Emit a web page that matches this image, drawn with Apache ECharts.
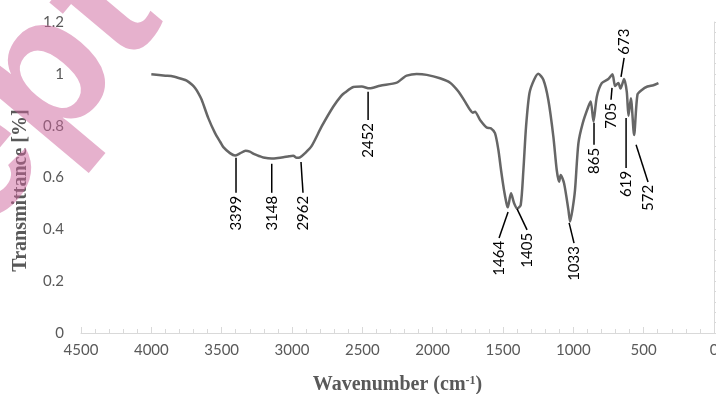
<!DOCTYPE html>
<html>
<head>
<meta charset="utf-8">
<script src="https://cdn.jsdelivr.net/npm/echarts@6/dist/echarts.min.js"></script>
<style>
  html, body { margin: 0; padding: 0; background: #fff; }
  #chart { width: 716px; height: 394px; }
</style>
</head>
<body>
<div id="chart"></div>
<script>
// spectrum
const wavenumber = [
  4000, 3900, 3844, 3780, 3749, 3710, 3689, 3665, 3642, 3595, 3547, 3510, 3488, 3441, 3405,
  3370, 3330, 3300, 3275, 3230, 3204, 3144, 3100, 3062, 3020, 2991, 2967, 2943, 2907, 2860,
  2789, 2706, 2650, 2623, 2564, 2504, 2450, 2374, 2255, 2215, 2185, 2114, 2042, 1948, 1876,
  1817, 1770, 1734, 1715, 1699, 1663, 1616, 1587, 1557, 1533, 1514, 1493, 1475, 1466, 1443,
  1421, 1398, 1374, 1355, 1336, 1312, 1279, 1249, 1213, 1178, 1142, 1118, 1101, 1090, 1066,
  1035, 1023, 1005, 988, 964, 933, 893, 876, 857, 833, 798, 751, 722, 703, 680,
  665, 639, 620, 608, 591, 568, 544, 513, 473, 431, 395
];
const transmittance = [
  0.998, 0.993, 0.990, 0.980, 0.974, 0.958, 0.945, 0.925, 0.900, 0.829, 0.771, 0.737, 0.717, 0.694, 0.685,
  0.693, 0.703, 0.700, 0.692, 0.682, 0.677, 0.673, 0.675, 0.678, 0.682, 0.684, 0.676, 0.678, 0.694, 0.722,
  0.797, 0.874, 0.915, 0.928, 0.949, 0.951, 0.944, 0.954, 0.966, 0.982, 0.993, 0.999, 0.996, 0.983, 0.966,
  0.932, 0.893, 0.861, 0.850, 0.854, 0.822, 0.793, 0.790, 0.771, 0.707, 0.629, 0.552, 0.500, 0.485, 0.539,
  0.501, 0.480, 0.494, 0.629, 0.797, 0.925, 0.977, 1.000, 0.977, 0.900, 0.758, 0.629, 0.584, 0.610, 0.578,
  0.475, 0.430, 0.480, 0.552, 0.732, 0.810, 0.874, 0.893, 0.816, 0.912, 0.964, 0.980, 0.998, 0.953, 0.965,
  0.943, 0.980, 0.930, 0.838, 0.906, 0.764, 0.920, 0.938, 0.951, 0.956, 0.964
];

// peak annotations: leader line from (fromX, fromY) to (toX, toY), label at the far end
const peakLabels = ['3399', '3148', '2962', '2452', '1464', '1405', '1033', '865', '705', '673', '619', '572'];
const lineFromX = [3398, 3144, 2936, 2459, 1464, 1400, 1030, 853, 725, 661, 625, 554];
const lineFromY = [0.676, 0.653, 0.660, 0.931, 0.467, 0.479, 0.425, 0.811, 0.946, 0.988, 0.830, 0.726];
const lineToX = [3398, 3144, 2922, 2459, 1528, 1329, 995, 853, 732, 639, 625, 469];
const lineToY = [0.541, 0.541, 0.541, 0.822, 0.367, 0.398, 0.347, 0.726, 0.900, 1.062, 0.637, 0.583];

const spectrum = wavenumber.map((w, i) => [w, transmittance[i]]);
const peaks = peakLabels.map((p, i) => [lineFromX[i], lineFromY[i], lineToX[i], lineToY[i], p]);

const chart = echarts.init(document.getElementById('chart'));

const axisGrey = '#d9d9d9';
const labelGrey = '#595959';

chart.setOption({
  animation: false,
  grid: { left: 81, right: 2, top: 22, bottom: 61, outerBoundsMode: 'none' },
  xAxis: {
    type: 'value',
    min: 0,
    max: 4500,
    interval: 500,
    inverse: true,
    name: 'Wavenumber (cm{sup|-1})',
    nameLocation: 'middle',
    nameGap: 42,
    nameTextStyle: {
      fontFamily: 'Liberation Serif',
      fontWeight: 'bold',
      fontSize: 20,
      color: labelGrey,
      rich: {
        sup: { fontFamily: 'Liberation Serif', fontWeight: 'bold', fontSize: 12, color: labelGrey, padding: [0, 0, 8, 0] }
      }
    },
    axisLine: { lineStyle: { color: axisGrey } },
    axisTick: { inside: true, length: 6, lineStyle: { color: axisGrey } },
    minorTick: { show: true, splitNumber: 5, length: 4, lineStyle: { color: axisGrey } },
    splitLine: { show: false },
    axisLabel: { color: labelGrey, fontFamily: 'Lato', fontSize: 15, margin: 10, formatter: v => String(v) }
  },
  yAxis: {
    type: 'value',
    min: 0,
    max: 1.2,
    interval: 0.2,
    name: 'Transmittance [%]',
    nameLocation: 'middle',
    nameGap: 50,
    nameTextStyle: {
      fontFamily: 'Liberation Serif',
      fontWeight: 'bold',
      fontSize: 20,
      color: labelGrey,
      padding: [0, 26, 0, 0]
    },
    axisLine: { show: true, lineStyle: { color: axisGrey } },
    axisTick: { show: true, inside: true, length: 6, lineStyle: { color: axisGrey } },
    minorTick: { show: true, splitNumber: 5, length: 6, lineStyle: { color: axisGrey } },
    splitLine: { show: false },
    axisLabel: {
      color: labelGrey,
      fontFamily: 'Lato',
      fontSize: 15,
      margin: 17,
      formatter: v => String(Math.round(v * 10) / 10)
    }
  },
  series: [
    {
      type: 'line',
      data: spectrum,
      showSymbol: false,
      smooth: 0.25,
      lineStyle: { color: '#666666', width: 2.5 },
      z: 2
    },
    {
      type: 'custom',
      data: peaks,
      z: 3,
      renderItem: (params, api) => {
        const a = api.coord([api.value(0), api.value(1)]);
        const b = api.coord([api.value(2), api.value(3)]);
        const up = b[1] < a[1];
        return {
          type: 'group',
          children: [
            {
              type: 'line',
              shape: { x1: a[0], y1: a[1], x2: b[0], y2: b[1] },
              style: { stroke: '#000', lineWidth: 1.5 }
            },
            {
              type: 'text',
              x: b[0],
              y: b[1] + (up ? -3 : 3),
              rotation: Math.PI / 2,
              style: {
                text: api.value(4) + '',
                font: '15px Lato',
                fill: '#000',
                align: up ? 'left' : 'right',
                verticalAlign: 'middle'
              }
            }
          ]
        };
      }
    }
  ],
  graphic: [
    {
      type: 'text',
      x: -282,
      y: 472,
      rotation: 50 * Math.PI / 180,
      z: 100,
      style: {
        text: 'Accepted',
        font: 'bold 190px "Liberation Sans"',
        fill: 'rgba(205, 100, 155, 0.5)',
        align: 'left',
        verticalAlign: 'middle'
      }
    }
  ]
});
</script>
</body>
</html>
